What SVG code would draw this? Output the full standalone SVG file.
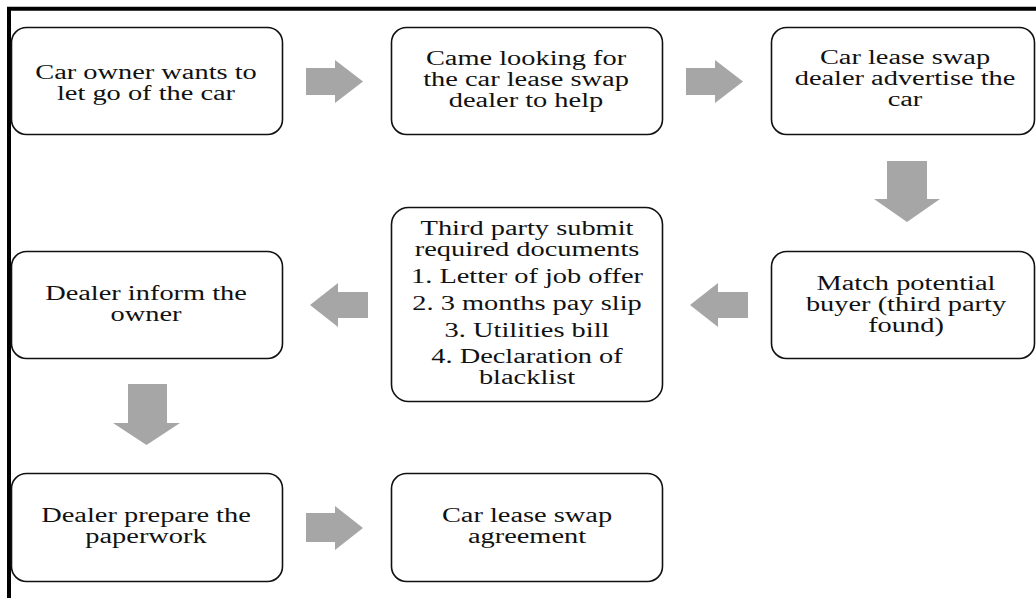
<svg xmlns="http://www.w3.org/2000/svg" width="1036" height="598" viewBox="0 0 1036 598">
<style>
.box{fill:#fff;stroke:#111;stroke-width:1.6}
.t{font-family:"Liberation Serif","Times New Roman",serif;font-size:20px;fill:#111;text-anchor:middle}
.arr{fill:#a6a6a6}
.frame{stroke:#000;stroke-width:4;fill:none}
</style>
<rect width="1036" height="598" fill="#fff"/>
<path class="frame" d="M9 598 V8.7 H1036"/>
<g id="connectors">
<polygon class="arr" points="306,68 335,68 335,60 363,81.5 335,103 335,95 306,95"/>
<polygon class="arr" points="686,68 715,68 715,60 743,81.5 715,103 715,95 686,95"/>
<polygon class="arr" points="887,161 927,161 927,199 940,199 907,222 874,199 887,199"/>
<polygon class="arr" points="748,292 718,292 718,283 690,305 718,327 718,318 748,318"/>
<polygon class="arr" points="368,292 338,292 338,283 310,305 338,327 338,318 368,318"/>
<polygon class="arr" points="128,384 167,384 167,423 180,423 146.5,445 113,423 128,423"/>
<polygon class="arr" points="306,513 335,513 335,506 363,528 335,550 335,542 306,542"/>
</g>
<g id="n1">
<rect class="box" x="11.5" y="27.5" width="271" height="107" rx="15"/>
<text class="t" transform="translate(146 0) scale(1.42 1)"><tspan x="0" y="79">Car owner wants to</tspan><tspan x="0" y="100">let go of the car</tspan></text>
</g>
<g id="n2">
<rect class="box" x="391.5" y="27.5" width="271" height="107" rx="15"/>
<text class="t" transform="translate(526 0) scale(1.42 1)"><tspan x="0" y="65">Came looking for</tspan><tspan x="0" y="86">the car lease swap</tspan><tspan x="0" y="107">dealer to help</tspan></text>
</g>
<g id="n3">
<rect class="box" x="771.5" y="27.5" width="263" height="107" rx="15"/>
<text class="t" transform="translate(905 0) scale(1.42 1)"><tspan x="0" y="64">Car lease swap</tspan><tspan x="0" y="85">dealer advertise the</tspan><tspan x="0" y="106">car</tspan></text>
</g>
<g id="n4">
<rect class="box" x="771.5" y="251.5" width="263" height="107" rx="15"/>
<text class="t" transform="translate(906 0) scale(1.42 1)"><tspan x="0" y="290">Match potential</tspan><tspan x="0" y="311">buyer (third party</tspan><tspan x="0" y="332">found)</tspan></text>
</g>
<g id="n5">
<rect class="box" x="391.5" y="207.5" width="271" height="194" rx="17"/>
<text class="t" transform="translate(527 0) scale(1.42 1)"><tspan x="0" y="235">Third party submit</tspan><tspan x="0" y="256">required documents</tspan><tspan x="0" y="283">1. Letter of job offer</tspan><tspan x="0" y="310">2. 3 months pay slip</tspan><tspan x="0" y="337">3. Utilities  bill</tspan><tspan x="0" y="363">4. Declaration of</tspan><tspan x="0" y="384">blacklist</tspan></text>
</g>
<g id="n6">
<rect class="box" x="11.5" y="251.5" width="271" height="107" rx="15"/>
<text class="t" transform="translate(146 0) scale(1.42 1)"><tspan x="0" y="300">Dealer inform the</tspan><tspan x="0" y="321">owner</tspan></text>
</g>
<g id="n7">
<rect class="box" x="11.5" y="473.5" width="271" height="108" rx="15"/>
<text class="t" transform="translate(146 0) scale(1.42 1)"><tspan x="0" y="522">Dealer prepare the</tspan><tspan x="0" y="543">paperwork</tspan></text>
</g>
<g id="n8">
<rect class="box" x="391.5" y="473.5" width="271" height="108" rx="15"/>
<text class="t" transform="translate(527 0) scale(1.42 1)"><tspan x="0" y="522">Car lease swap</tspan><tspan x="0" y="543">agreement</tspan></text>
</g>
</svg>
